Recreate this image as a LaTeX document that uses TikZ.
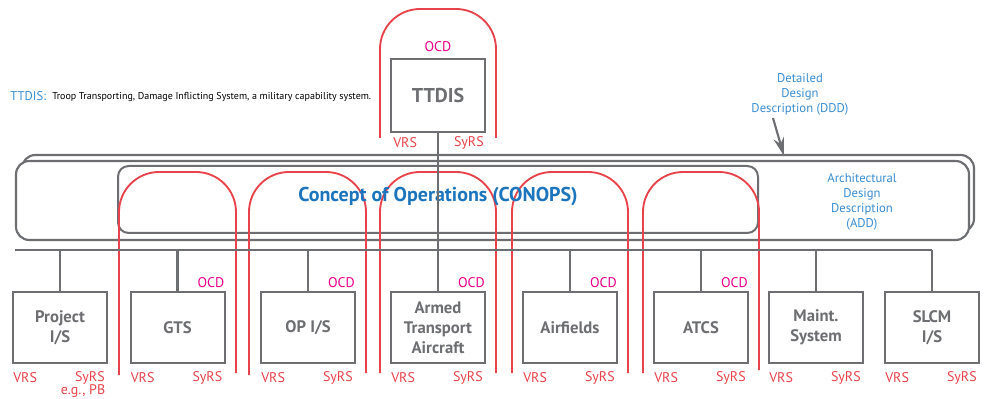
\documentclass[tikz,border=0pt]{standalone}
\usepackage{fontspec}
\setmainfont{PT Sans}
\usetikzlibrary{arrows.meta}
\definecolor{gcol}{HTML}{6D6E71}
\definecolor{rcol}{HTML}{E8434B}
\definecolor{mcol}{HTML}{EC008C}
\definecolor{bcol}{HTML}{1C75BC}
\definecolor{lbcol}{HTML}{3A8DD3}
\tikzset{
  sysbox/.style={draw=gcol, line width=1.5pt, fill=white, minimum width=70.5pt, minimum height=53.25pt,
    font=\bfseries\fontsize{12.5}{15}\selectfont, text=gcol, align=center, inner sep=0pt},
  arch/.style={draw=rcol, line width=1.4pt, rounded corners=30pt},
  grayline/.style={draw=gcol, line width=1.6pt},
  rlbl/.style={text=rcol, font=\fontsize{10.5}{12}\selectfont, inner sep=0pt},
  ocdlbl/.style={text=mcol, font=\fontsize{10.5}{12}\selectfont, inner sep=0pt},
  desc/.style={text=lbcol, font=\fontsize{9.5}{11.25}\selectfont, align=center, inner sep=0pt},
}
\begin{document}
\begin{tikzpicture}[x=0.75pt,y=-0.75pt]
\useasboundingbox (0,0) rectangle (986,399);
% caption
\node[anchor=west, inner sep=0pt, text=lbcol, font=\fontsize{9.5}{11}\selectfont] (cap) at (10,96) {TTDIS:};
\node[anchor=west, inner sep=0pt, font=\fontsize{7.5}{9}\selectfont] (captxt) at (52,97) {Troop Transporting, Damage Inflicting System, a military capability system.};
% DDD
\node[desc] (ddd) at (800,94) {Detailed\\Design\\Description (DDD)};
\coordinate (dddtail) at (773,118);
\coordinate (dddhead) at (784,156);
% ADD rectangles
\draw[grayline, rounded corners=10pt] (22,155) rectangle (974,232);
\draw[grayline, fill=white, rounded corners=10pt] (16,161) rectangle (969,240);
\node[draw=gcol, line width=1.5pt, rounded corners=8pt, minimum width=480pt, minimum height=50.25pt, inner sep=0pt] (conopsbox) at (438,199.5) {};
\node[desc] (add) at (862,201.5) {Architectural\\Design\\Description\\(ADD)};
\draw[grayline, -{Stealth[length=14pt,width=8pt]}] (dddtail) -- (dddhead);
% TTDIS
\node[sysbox, minimum height=54.75pt, font=\bfseries\fontsize{15}{18}\selectfont] (ttdis) at (438,95.5) {TTDIS};
\draw[arch] (380,138) |- (496,9) -- (496,138);
\node[ocdlbl] (ocd0) at (438,47) {OCD};
\node[rlbl, anchor=west] (vrs0) at (393,143) {VRS};
\node[rlbl, anchor=east] (syrs0) at (484,143) {SyRS};
% boxes
\node[sysbox] (b1) at (60,327.5) {Project\\I/S};
\node[sysbox] (b2) at (177.5,327.5) {GTS};
\node[sysbox] (b3) at (308,327.5) {OP I/S};
\node[sysbox] (b4) at (438,327.5) {Armed\\Transport\\Aircraft};
\node[sysbox] (b5) at (570,327.5) {Airfields};
\node[sysbox] (b6) at (701,327.5) {ATCS};
\node[sysbox] (b7) at (816,327.5) {Maint.\\System};
\node[sysbox] (b8) at (932,327.5) {SLCM\\I/S};
% arches
\draw[arch] (119,375) |- (236,172) -- (236,373);
\draw[arch] (249,375) |- (366,172) -- (366,373);
\draw[arch] (380,373) |- (496,172) -- (496,373);
\draw[arch] (512,373) |- (628,172) -- (628,373);
\draw[arch] (643,373) |- (759,172) -- (759,370);
% CONOPS title over arches
\node[font=\bfseries\fontsize{15}{18}\selectfont, text=bcol, inner sep=0pt] (conops) at (438,197) {Concept of Operations (CONOPS)};
% bus
\coordinate (busL) at (15,250);
\coordinate (busR) at (932,250);
\draw[grayline] (busL) -- (busR);
\draw[grayline] (ttdis.south) -- (ttdis.south |- busL);
\foreach \b in {b1,b2,b3,b4,b5,b6,b7,b8}{
  \draw[grayline] (\b.north) -- (\b.north |- busL);
  \node[rlbl, anchor=west] at ([xshift=0.75pt]\b.west |- 0,378) {VRS};
  \node[rlbl, anchor=east] at ([xshift=-2.25pt]\b.east |- 0,378) {SyRS};
}
\foreach \b in {b2,b3,b4,b5,b6}{
  \node[ocdlbl, anchor=east] at ([xshift=-0.75pt]\b.east |- 0,283) {OCD};
}
\node[rlbl] (egpb) at (83,391) {e.g., PB};
\end{tikzpicture}
\end{document}
